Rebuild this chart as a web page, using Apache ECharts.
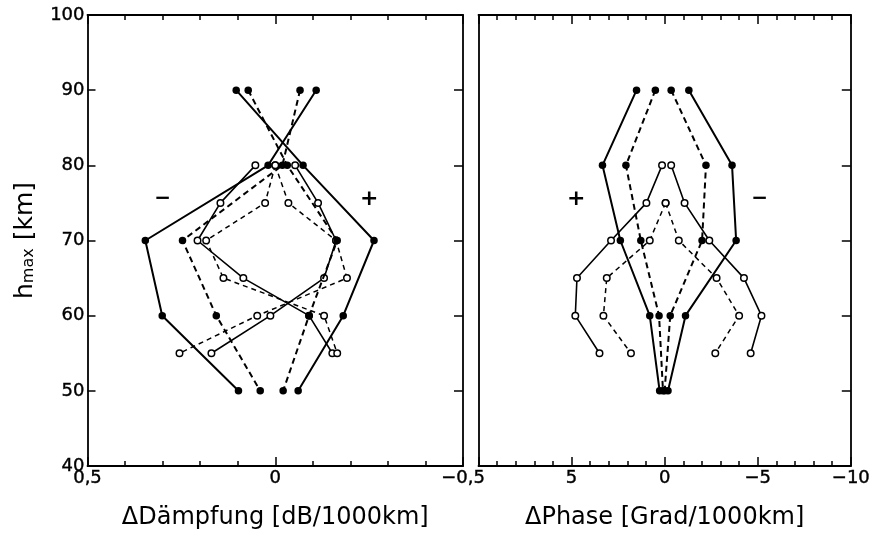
<!DOCTYPE html>
<html>
<head>
<meta charset="utf-8">
<script src="https://cdn.jsdelivr.net/npm/echarts@6/dist/echarts.min.js"></script>
<style>
  html, body { margin: 0; padding: 0; background: #fff; }
  #chart { width: 873px; height: 538px; }
</style>
</head>
<body>
<div id="chart"></div>
<script>
// Heights of the perturbation maximum (km)
const heightsFilled = [90, 80, 70, 60, 50];
const heightsOpen = [80, 75, 70, 65, 60, 55];
const heightsOpenDashedPhase = [75, 70, 65, 60, 55];

// Change of attenuation (dB/1000km), filled-dot curves (90..50 km)
const dampFilledSolidA = [0.104, -0.074, -0.263, -0.181, -0.061];
const dampFilledSolidB = [-0.109, 0.019, 0.346, 0.301, 0.098];
const dampFilledDashedC = [0.072, -0.032, -0.165, -0.090, -0.021];
const dampFilledDashedD = [-0.066, -0.019, 0.247, 0.157, 0.040];
// Open-dot curves (80..55 km)
const dampOpenSolidL = [0.053, 0.146, 0.207, 0.085, -0.090, -0.152];
const dampOpenSolidR = [-0.053, -0.114, -0.162, -0.130, 0.013, 0.170];
const dampOpenDashedL = [0.0, 0.027, 0.184, 0.138, -0.130, -0.165];
const dampOpenDashedR = [0.0, -0.035, -0.162, -0.191, 0.048, 0.255];

// Change of phase (Grad/1000km), filled-dot curves (90..50 km)
const phaseFilledSolidL = [1.51, 3.34, 2.38, 0.80, 0.27];
const phaseFilledDashedL = [0.50, 2.08, 1.28, 0.30, 0.09];
const phaseFilledDashedR = [-0.35, -2.22, -2.01, -0.30, 0.0];
const phaseFilledSolidR = [-1.30, -3.62, -3.84, -1.12, -0.18];
// Open-dot curves
const phaseOpenSolidL = [0.14, 0.98, 2.88, 4.71, 4.80, 3.50];
const phaseOpenSolidR = [-0.35, -1.07, -2.40, -4.26, -5.20, -4.62];
const phaseOpenDashedL = [-0.05, 0.80, 3.11, 3.29, 1.81];
const phaseOpenDashedR = [-0.05, -0.76, -2.79, -4.00, -2.72];

// Sign annotations [x, h, text]
const dampSigns = [[0.30, 75.5, '\u2212'], [-0.25, 75.5, '+']];
const phaseSigns = [[4.75, 75.5, '+'], [-5.1, 75.5, '\u2212']];

const FONT = '"DejaVu Sans", sans-serif';
const INK = '#000';

function fmtComma(v) {
  if (v === 0) return '0';
  const s = Math.abs(v).toFixed(1).replace('.', ',');
  return (v < 0 ? '\u2212' : '') + s;
}
function fmtPhase(v) {
  if (v === 10) return '';
  if (v === 0) return '0';
  return (v < 0 ? '\u2212' : '') + Math.abs(v);
}

const STYLE = {
  fs: { line: { type: 'solid', width: 2.0 }, filled: true },
  fd: { line: { type: [6, 4], width: 2.0 }, filled: true },
  os: { line: { type: 'solid', width: 1.6 }, filled: false },
  od: { line: { type: [5, 4], width: 1.5 }, filled: false }
};

function curve(panel, heights, values, kind) {
  const st = STYLE[kind];
  return {
    type: 'line',
    xAxisIndex: panel * 2,
    yAxisIndex: panel * 2,
    data: heights.map((h, i) => [values[i], h]),
    symbol: 'circle',
    symbolSize: st.filled ? 7.5 : 6.5,
    showSymbol: true,
    animation: false,
    silent: true,
    lineStyle: { color: INK, width: st.line.width, type: st.line.type },
    itemStyle: st.filled
      ? { color: INK, borderColor: INK, borderWidth: 0 }
      : { color: '#fff', borderColor: INK, borderWidth: 1.5 },
    z: st.filled ? 3 : 2
  };
}

function signs(panel, list) {
  return {
    type: 'scatter',
    xAxisIndex: panel * 2,
    yAxisIndex: panel * 2,
    data: list.map(d => ({
      value: [d[0], d[1]],
      label: { formatter: d[2], fontSize: d[2] === '+' ? 22 : 20 }
    })),
    symbolSize: 1,
    itemStyle: { color: 'rgba(0,0,0,0)', opacity: 1 },
    animation: false,
    silent: true,
    label: {
      show: true, position: 'inside', color: INK,
      fontFamily: FONT, fontWeight: 'bold'
    }
  };
}

const axisLine = { show: true, onZero: false, lineStyle: { color: INK, width: 1.8 } };
const tickLine = { color: INK, width: 1.5 };
const tickText = { fontFamily: FONT, fontSize: 18, color: INK, textBorderColor: INK, textBorderWidth: 0.4 };

function xAxisPair(grid, min, max, interval, fmt, name) {
  const common = {
    gridIndex: grid, type: 'value', min: min, max: max, interval: interval,
    inverse: true,
    axisLine: axisLine,
    axisTick: { show: true, inside: true, length: 9, lineStyle: tickLine },
    minorTick: { show: true, splitNumber: 5, length: 5, lineStyle: tickLine },
    splitLine: { show: false },
    minorSplitLine: { show: false }
  };
  return [
    Object.assign({}, common, {
      position: 'bottom',
      axisLabel: Object.assign({ show: true, formatter: fmt, margin: 3, showMinLabel: true, showMaxLabel: true }, tickText),
      name: name, nameLocation: 'middle', nameGap: 40,
      nameTextStyle: { fontFamily: FONT, fontSize: 24, color: INK }
    }),
    Object.assign({}, common, {
      position: 'top',
      axisLabel: { show: false }
    })
  ];
}

function yAxisPair(grid, leftTicks, withLabels) {
  const common = {
    gridIndex: grid, type: 'value', min: 40, max: 100, interval: 10,
    axisLine: axisLine,
    splitLine: { show: false }
  };
  const left = Object.assign({}, common, {
    position: 'left',
    axisTick: { show: leftTicks, inside: true, length: 8, lineStyle: tickLine },
    axisLabel: withLabels
      ? Object.assign({ show: true, margin: 3 }, tickText)
      : { show: false }
  });
  if (withLabels) {
    left.name = '{h|h}{s|max}{h| [km]}';
    left.nameLocation = 'middle';
    left.nameRotate = 90;
    left.nameGap = 50;
    left.nameTextStyle = {
      rich: {
        h: { fontFamily: FONT, fontSize: 25, color: INK },
        s: { fontFamily: FONT, fontSize: 16, color: INK, padding: [8, 0, 0, 0] }
      }
    };
  }
  const right = Object.assign({}, common, {
    position: 'right',
    axisTick: { show: true, inside: true, length: 9, lineStyle: tickLine },
    axisLabel: { show: false }
  });
  return [left, right];
}

const chart = echarts.init(document.getElementById('chart'), null, { renderer: 'canvas' });

const option = {
  backgroundColor: '#fff',
  animation: false,
  grid: [
    { left: 87.5, top: 15, width: 375.5, height: 451 },
    { left: 478.5, top: 15, width: 375, height: 451 }
  ],
  xAxis: [
    ...xAxisPair(0, -0.5, 0.5, 0.5, fmtComma, '\u0394D\u00e4mpfung [dB/1000km]'),
    ...xAxisPair(1, -10, 10, 5, fmtPhase, '\u0394Phase [Grad/1000km]')
  ],
  yAxis: [
    ...yAxisPair(0, true, true),
    ...yAxisPair(1, false, false)
  ],
  series: [
    curve(0, heightsOpen, dampOpenSolidL, 'os'),
    curve(0, heightsOpen, dampOpenSolidR, 'os'),
    curve(0, heightsOpen, dampOpenDashedL, 'od'),
    curve(0, heightsOpen, dampOpenDashedR, 'od'),
    curve(0, heightsFilled, dampFilledSolidA, 'fs'),
    curve(0, heightsFilled, dampFilledSolidB, 'fs'),
    curve(0, heightsFilled, dampFilledDashedC, 'fd'),
    curve(0, heightsFilled, dampFilledDashedD, 'fd'),
    signs(0, dampSigns),

    curve(1, heightsOpen, phaseOpenSolidL, 'os'),
    curve(1, heightsOpen, phaseOpenSolidR, 'os'),
    curve(1, heightsOpenDashedPhase, phaseOpenDashedL, 'od'),
    curve(1, heightsOpenDashedPhase, phaseOpenDashedR, 'od'),
    curve(1, heightsFilled, phaseFilledSolidL, 'fs'),
    curve(1, heightsFilled, phaseFilledDashedL, 'fd'),
    curve(1, heightsFilled, phaseFilledDashedR, 'fd'),
    curve(1, heightsFilled, phaseFilledSolidR, 'fs'),
    signs(1, phaseSigns)
  ]
};

chart.setOption(option);
</script>
</body>
</html>
